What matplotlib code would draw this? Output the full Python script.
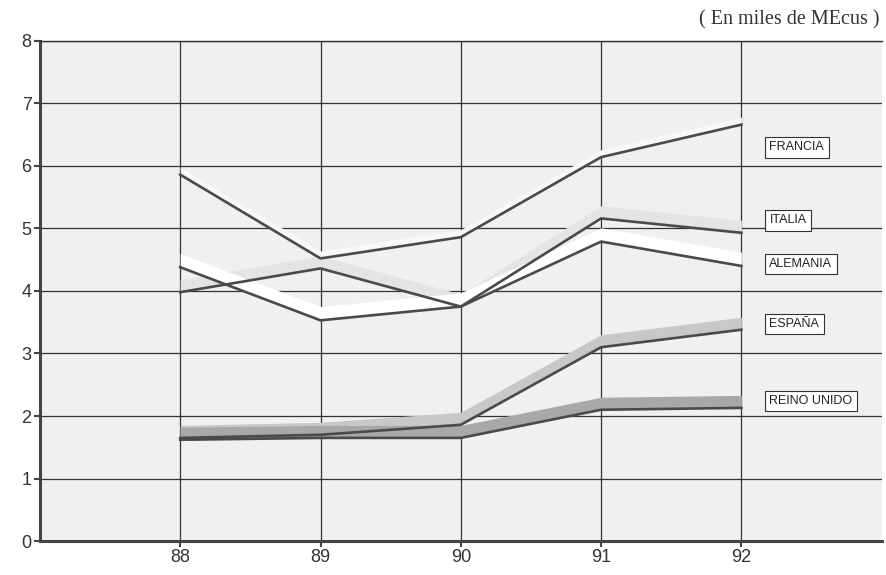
import numpy as np
import matplotlib.pyplot as plt

plt.rcParams['font.family'] = ['Liberation Sans', 'DejaVu Sans']

years = [88, 89, 90, 91, 92]
francia = [5.86, 4.52, 4.86, 6.14, 6.66]
italia = [3.98, 4.36, 3.75, 5.16, 4.93]
alemania = [4.38, 3.53, 3.75, 4.79, 4.40]
espana = [1.65, 1.70, 1.86, 3.10, 3.38]
reino_unido = [1.62, 1.65, 1.65, 2.10, 2.13]

series = ['FRANCIA', 'ITALIA', 'ALEMANIA', 'ESPAÑA', 'REINO UNIDO']
valores = [francia, italia, alemania, espana, reino_unido]
pos_etiqueta = [6.30, 5.13, 4.43, 3.47, 2.24]

# colores de la "sombra" de cada serie (efecto 3D del original)
sombra = ['#f8f8f8', '#e4e4e4', '#ffffff', '#c8c8c8', '#a8a8a8']
grosor = [0.12, 0.2, 0.22, 0.2, 0.2]

fig = plt.figure(figsize=(8.87, 5.75), dpi=100)
ax = fig.add_axes([0.045, 0.059, 0.949, 0.870])
ax.set_facecolor('#f0f0f0')
fig.patch.set_facecolor('white')

ax.set_xlim(87, 93)
ax.set_ylim(0, 8)
ax.set_yticks(range(0, 9))
ax.set_xticks(years)
ax.set_xticklabels([str(a) for a in years], fontsize=13, color='#333333')
ax.set_yticklabels([str(v) for v in range(9)], fontsize=13, color='#333333')
ax.grid(True, color='#333333', linewidth=0.9)
ax.set_axisbelow(True)

ax.spines['right'].set_visible(False)
ax.spines['top'].set_linewidth(1.0)
ax.spines['top'].set_color('#333333')
ax.spines['left'].set_linewidth(2.2)
ax.spines['left'].set_color('#444444')
ax.spines['bottom'].set_linewidth(2.2)
ax.spines['bottom'].set_color('#444444')
ax.tick_params(axis='both', length=4, width=1.5, color='#444444', pad=2)

x = np.array(years)
for v, c, g in zip(valores, sombra, grosor):
    v = np.array(v)
    ax.fill_between(x, v, v + g, color=c, linewidth=0, zorder=2)

for v in valores:
    ax.plot(years, v, color='#4a4a4a', linewidth=1.9, zorder=3)

for nombre, yv in zip(series, pos_etiqueta):
    ax.text(92.2, yv, nombre, fontsize=9, color='#222222', va='center', ha='left',
            zorder=5, bbox=dict(boxstyle='square,pad=0.35', facecolor='white',
                                edgecolor='#333333', linewidth=0.8))

fig.text(0.992, 0.965, '( En miles de MEcus )', ha='right', va='center',
         fontsize=14.5, family='Liberation Serif', color='#333333')

fig.savefig('out.png', dpi=100)
